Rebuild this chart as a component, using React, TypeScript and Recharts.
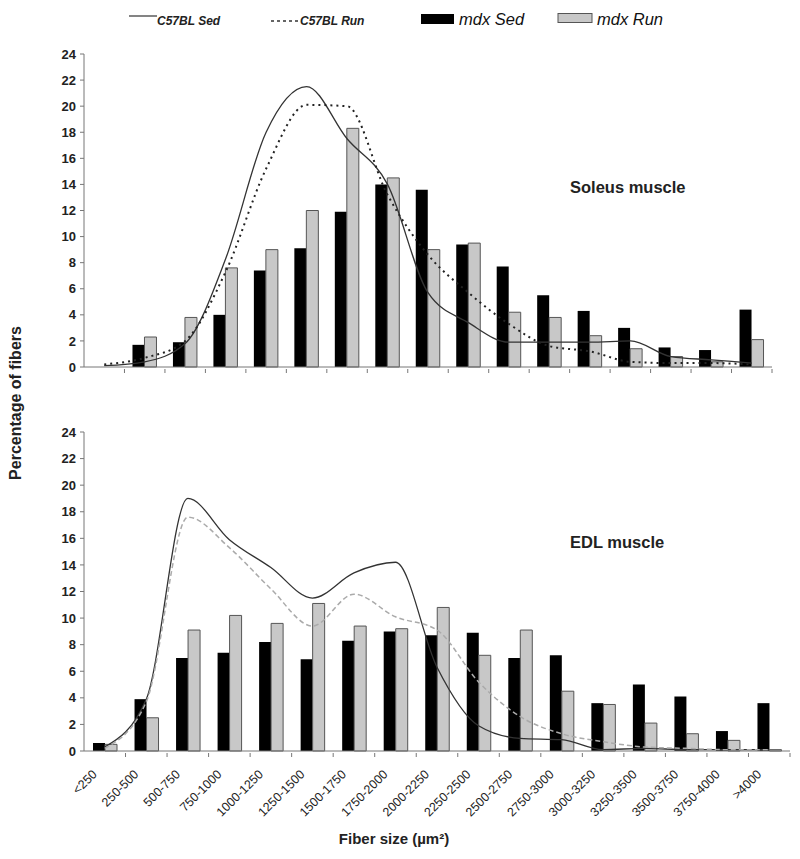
import { Bar, ComposedChart, Line, XAxis, YAxis } from "recharts";

const sizeBins = [
  "<250", "250-500", "500-750", "750-1000", "1000-1250", "1250-1500", "1500-1750",
  "1750-2000", "2000-2250", "2250-2500", "2500-2750", "2750-3000", "3000-3250",
  "3250-3500", "3500-3750", "3750-4000", ">4000",
];
const yTicks = [0, 2, 4, 6, 8, 10, 12, 14, 16, 18, 20, 22, 24];

// Soleus
const soleusMdxSed = [0, 1.7, 1.9, 4.0, 7.4, 9.1, 11.9, 14.0, 13.6, 9.4, 7.7, 5.5, 4.3, 3.0, 1.5, 1.3, 4.4];
const soleusMdxRun = [0, 2.3, 3.8, 7.6, 9.0, 12.0, 18.3, 14.5, 9.0, 9.5, 4.2, 3.8, 2.4, 1.4, 0.8, 0.4, 2.1];
const soleusC57Sed = [0.1, 0.4, 1.8, 8.3, 18.0, 21.5, 17.5, 14.0, 5.7, 3.4, 1.9, 1.9, 1.9, 2.0, 0.8, 0.55, 0.3];
const soleusC57Run = [0.2, 0.7, 2.0, 7.3, 15.2, 20.1, 20.0, 13.2, 8.6, 5.7, 3.3, 1.6, 1.2, 0.4, 0.3, 0.3, 0.2];

// EDL
const edlMdxSed = [0.6, 3.9, 7.0, 7.4, 8.2, 6.9, 8.3, 9.0, 8.7, 8.9, 7.0, 7.2, 3.6, 5.0, 4.1, 1.5, 3.6];
const edlMdxRun = [0.5, 2.5, 9.1, 10.2, 9.6, 11.1, 9.4, 9.2, 10.8, 7.2, 9.1, 4.5, 3.5, 2.1, 1.3, 0.8, 0.1];
const edlC57Sed = [0.3, 3.9, 19.0, 15.9, 13.8, 11.5, 13.4, 14.2, 6.3, 1.9, 0.95, 0.85, 0.1, 0.2, 0.1, 0.1, 0.1];
const edlC57Run = [0.2, 3.7, 17.6, 15.3, 12.2, 9.4, 11.8, 10.1, 9.1, 5.2, 2.6, 1.3, 0.7, 0.3, 0.2, 0.1, 0.1];

const soleusRows = sizeBins.map((bin, i) => ({
  bin,
  mdxSed: soleusMdxSed[i],
  mdxRun: soleusMdxRun[i],
  c57Sed: soleusC57Sed[i],
  c57Run: soleusC57Run[i],
}));

const edlRows = sizeBins.map((bin, i) => ({
  bin,
  mdxSed: edlMdxSed[i],
  mdxRun: edlMdxRun[i],
  c57Sed: edlC57Sed[i],
  c57Run: edlC57Run[i],
}));

const FONT = "'Liberation Sans', Arial, sans-serif";
const AXIS = "#777";

function makeTick(band: number, showLabel: boolean) {
  return function BinTick(props: any) {
    const { x, y, payload } = props;
    const lx = x - 7;
    const ly = y + 22;
    return (
      <g>
        <line x1={x + band / 2} y1={y} x2={x + band / 2} y2={y + 4} stroke={AXIS} />
        {showLabel && (
          <text
            x={lx}
            y={ly}
            transform={`rotate(-45, ${lx}, ${ly})`}
            textAnchor="end"
            fontSize={12.5}
            fontFamily={FONT}
            fill="#222"
          >
            {payload.value}
          </text>
        )}
      </g>
    );
  };
}

function Panel({ rows, width, height, margin, band, showLabels, xHeight, runStroke, runDash, runWidth }: any) {
  return (
    <ComposedChart width={width} height={height} data={rows} margin={margin} barGap={0}>
      <XAxis
        dataKey="bin"
        interval={0}
        height={xHeight}
        tickSize={0}
        tickLine={false}
        axisLine={{ stroke: AXIS }}
        tick={makeTick(band, showLabels)}
      />
      <YAxis
        width={76}
        domain={[0, 24]}
        ticks={yTicks}
        interval={0}
        tickSize={4}
        tickMargin={4}
        axisLine={{ stroke: AXIS }}
        tickLine={{ stroke: AXIS }}
        tick={{ fontSize: 13, fontWeight: 700, fill: "#222", fontFamily: FONT }}
      />
      <Bar dataKey="mdxSed" fill="#000" barSize={12} isAnimationActive={false} />
      <Bar dataKey="mdxRun" fill="#c8c8c8" stroke="#555" strokeWidth={1} barSize={12} isAnimationActive={false} />
      <Line dataKey="c57Sed" type="monotone" stroke="#333" strokeWidth={1.3} dot={false} isAnimationActive={false} />
      <Line
        dataKey="c57Run"
        type="monotone"
        stroke={runStroke}
        strokeWidth={runWidth}
        strokeDasharray={runDash}
        dot={false}
        isAnimationActive={false}
      />
    </ComposedChart>
  );
}

export default function App() {
  return (
    <div style={{ position: "relative", width: 784, height: 843, background: "#fff", fontFamily: FONT }}>
      <div style={{ position: "absolute", left: 0, top: 0 }}>
        <Panel
          rows={soleusRows}
          width={784}
          height={380}
          margin={{ top: 46, right: 20, bottom: 11, left: 0 }}
          band={688 / 17}
          showLabels={false}
          xHeight={10}
          runStroke="#222"
          runDash="2 4"
          runWidth={2}
        />
      </div>
      <div style={{ position: "absolute", left: 0, top: 380 }}>
        <Panel
          rows={edlRows}
          width={784}
          height={463}
          margin={{ top: 44, right: 2, bottom: 0, left: 0 }}
          band={706 / 17}
          showLabels={true}
          xHeight={100}
          runStroke="#aaa"
          runDash="5 3"
          runWidth={1.5}
        />
      </div>
      <svg
        width={784}
        height={843}
        style={{ position: "absolute", left: 0, top: 0, pointerEvents: "none" }}
        fontFamily={FONT}
      >
        {/* legend */}
        <line x1={121} y1={8} x2={149} y2={8} stroke="#333" strokeWidth={1.2} />
        <text x={149} y={17} fontSize={12} fontWeight={700} fontStyle="italic" fill="#222">C57BL Sed</text>
        <line x1={263} y1={13} x2={290} y2={13} stroke="#333" strokeWidth={1.5} strokeDasharray="3 3" />
        <text x={292} y={17} fontSize={12} fontWeight={700} fontStyle="italic" fill="#222">C57BL Run</text>
        <rect x={413} y={6} width={33} height={10} fill="#000" />
        <text x={451} y={17} fontSize={16.5} fontStyle="italic" fill="#111">mdx Sed</text>
        <rect x={550} y={5.5} width={34} height={9} fill="#c8c8c8" stroke="#555" />
        <text x={589} y={17} fontSize={16.5} fontStyle="italic" fill="#111">mdx Run</text>

        <text x={562} y={185} fontSize={16.5} fontWeight={700} fill="#222">Soleus muscle</text>
        <text x={562} y={540} fontSize={16.5} fontWeight={700} fill="#222">EDL muscle</text>
        <text
          x={0}
          y={0}
          transform="translate(13, 395) rotate(-90)"
          textAnchor="middle"
          fontSize={16}
          fontWeight={700}
          fill="#222"
        >
          Percentage of fibers
        </text>
        <text x={386} y={836} textAnchor="middle" fontSize={15} fontWeight={700} fill="#222">
          Fiber size (µm²)
        </text>
      </svg>
    </div>
  );
}
